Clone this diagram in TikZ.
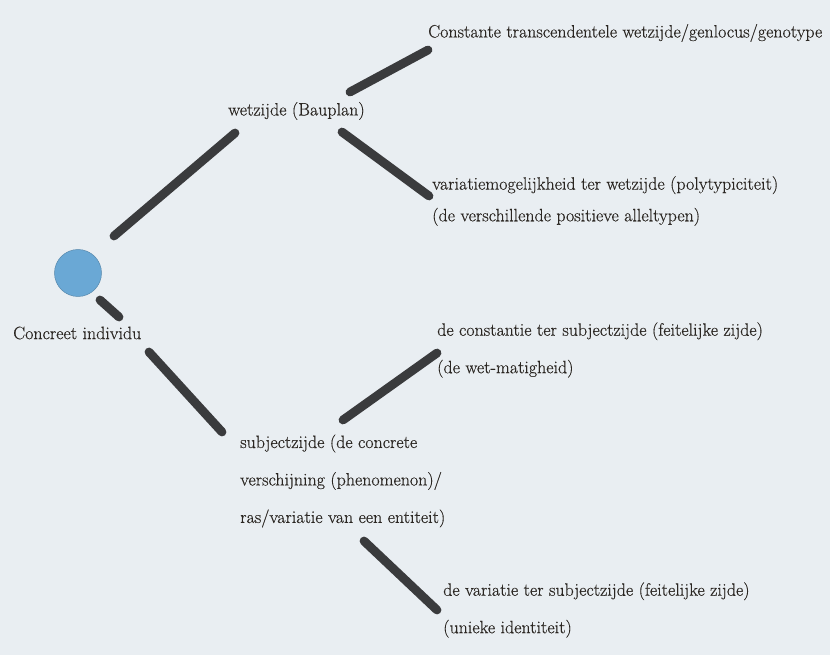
\documentclass[tikz,border=0pt]{standalone}
\usepackage{fontspec}
\usepackage{tikz}
\usetikzlibrary{positioning}
\newfontfamily\inkfont{Latin Modern Roman}[FakeBold=0.35]
\definecolor{paper}{HTML}{E9EEF2}
\definecolor{ink}{HTML}{2A2622}
\definecolor{marker}{HTML}{2C2C2E}
\definecolor{cellblue}{HTML}{6AA8D5}
\tikzset{main node/.style={circle,fill=cellblue,draw=cellblue!80!black,thin,minimum size=1.41cm,inner sep=0pt,anchor=center},
         every node/.style={text=ink,inner sep=0pt,anchor=west,align=left,font=\inkfont\fontsize{15.3}{32}\selectfont},
         tight lines/.style={font=\inkfont\fontsize{15.3}{27}\selectfont},
         marker edge/.style={draw=marker,line width=7.5pt,line cap=round,opacity=0.92},
}

\begin{document}
\begin{tikzpicture}[x=0.03cm,y=-0.03cm]
\fill[paper] (0,0) rectangle (830,655);
\useasboundingbox (0,0) rectangle (830,655);
% nodes
\node [main node] (0) at (78,273) {};
\node (1) at (13,333) {Concreet individu};
\node (2) at (228,111) {wetzijde (Bauplan)};
\node (3) at (428,33) {Constante transcendentele wetzijde/genlocus/genotype};
\node [tight lines] (4) at (432,201) {variatiemogelijkheid ter wetzijde (polytypiciteit)\\(de verschillende positieve alleltypen)};
\node (5) at (240,481) {subjectzijde (de concrete\\verschijning (phenomenon)/\\ras/variatie van een entiteit)};
\node (6) at (437,350) {de constantie ter subjectzijde (feitelijke zijde)\\(de wet-matigheid)};
\node (7) at (443,610) {de variatie ter subjectzijde (feitelijke zijde)\\(unieke identiteit)};
% strokes
\draw[marker edge] ([shift={(36,-37)}]0.center) -- ([shift={(7,22)}]2.west);
\draw[marker edge] ([shift={(122,-19)}]2.west) -- ([shift={(0,17)}]3.west);
\draw[marker edge] ([shift={(114,21)}]2.west) -- ([shift={(-3,-5)}]4.west);
\draw[marker edge] ([shift={(22,27)}]0.center) -- ([shift={(106,-16)}]1.west);
\draw[marker edge] ([shift={(136,19)}]1.west) -- ([shift={(-18,-49)}]5.west);
\draw[marker edge] ([shift={(103,-61)}]5.west) -- ([shift={(0,3)}]6.west);
\draw[marker edge] ([shift={(124,60)}]5.west) -- ([shift={(-6,0)}]7.west);
\end{tikzpicture}
\end{document}
